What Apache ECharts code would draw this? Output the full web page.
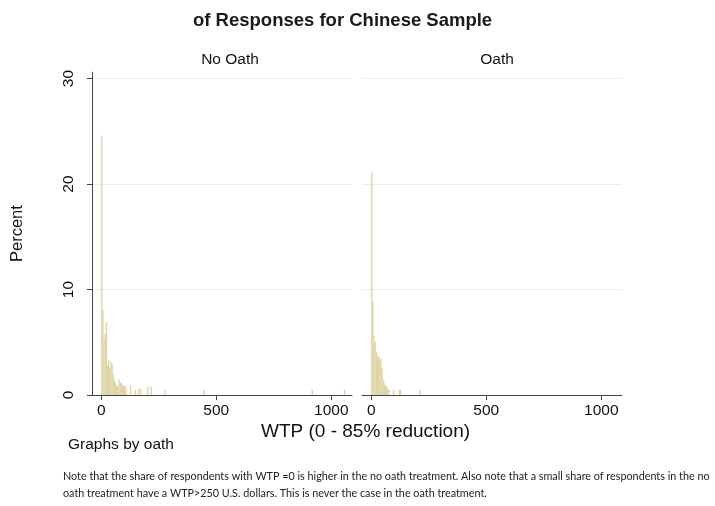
<!DOCTYPE html>
<html>
<head>
<meta charset="utf-8">
<script src="https://cdn.jsdelivr.net/npm/echarts@6/dist/echarts.min.js"></script>
<style>html,body{margin:0;padding:0;background:#fff}#c{width:715px;height:506px}</style>
</head>
<body>
<div id="c"></div>
<script>
// ---- data (percent of responses per WTP bin, bin width 5) ----
const BIN_WIDTH = 5;
const panelTitles = ["No Oath", "Oath"];
const noOathBins = [0, 5, 10, 15, 20, 25, 30, 35, 40, 45, 50, 55, 60, 65, 70, 75, 80, 85, 90, 95, 100, 105, 125, 145, 160, 170, 200, 215, 275, 445, 915, 1055];
const noOathPct  = [24.6, 8.0, 5.2, 5.8, 6.9, 2.8, 3.3, 2.6, 3.1, 2.9, 1.9, 1.4, 1.1, 0.8, 0.9, 1.5, 1.2, 1.1, 0.9, 0.8, 0.9, 0.6, 0.9, 0.5, 0.6, 0.6, 0.8, 0.8, 0.5, 0.5, 0.5, 0.5];
const oathBins = [0, 5, 10, 15, 20, 25, 30, 35, 40, 45, 50, 55, 60, 65, 70, 75, 95, 120, 125, 210];
const oathPct  = [21.1, 8.8, 5.6, 5.0, 4.1, 3.6, 3.7, 3.4, 3.4, 2.5, 1.4, 1.1, 0.8, 0.8, 0.5, 0.5, 0.5, 0.5, 0.5, 0.5];
const xTicks = [0, 500, 1000];
const yTicks = [0, 10, 20, 30];
const xTitle = "WTP (0 - 85% reduction)";
const yTitle = "Percent";
const chartTitle = "of Responses for Chinese Sample";
const byNote = "Graphs by oath";
const noteLines = [
  "Note that the share of respondents with WTP =0 is higher in the no oath treatment. Also note that a small share of respondents in the no",
  "oath treatment have a WTP>250 U.S. dollars. This is never the case in the oath treatment."
];

const FONT = "Liberation Sans";
const BAR = "#d9cf9b";
const GRIDC = "#e3f0f0";
const AXC = "#444";

function renderItem(params, api) {
  const x0 = api.value(0), h = api.value(1);
  const p0 = api.coord([x0, 0]);
  const p1 = api.coord([x0 + BIN_WIDTH, h]);
  return {
    type: 'rect',
    shape: { x: p0[0], y: p1[1], width: p1[0] - p0[0], height: p0[1] - p1[1] },
    style: { fill: BAR, stroke: '#e6dfb8', lineWidth: 0.3 }
  };
}

function xAxisFor(i) {
  return {
    type: 'value', gridIndex: i, min: -40, max: 1090,
    axisLine: { show: true, onZero: false, lineStyle: { color: AXC, width: 1 } },
    axisTick: { show: true, length: 5, customValues: xTicks, lineStyle: { color: AXC } },
    axisLabel: { customValues: xTicks, margin: 8, fontFamily: FONT, fontSize: 15.5, color: '#111',
                 formatter: v => String(v) },
    splitLine: { show: false }
  };
}
function yAxisFor(i) {
  const show = i === 0;
  return {
    type: 'value', gridIndex: i, min: 0, max: 30.6,
    axisLine: { show: show, onZero: false, lineStyle: { color: AXC, width: 1 } },
    axisTick: { show: show, length: 5, customValues: yTicks, lineStyle: { color: AXC } },
    axisLabel: { show: show, customValues: yTicks, rotate: 90, margin: 15, fontFamily: FONT, fontSize: 15.5, color: '#111' },
    splitLine: { show: true, lineStyle: { color: GRIDC, width: 1 } },
    name: show ? yTitle : '', nameLocation: 'middle', nameGap: 66, nameRotate: 90,
    nameTextStyle: { fontFamily: FONT, fontSize: 16.5, color: '#111' }
  };
}

const chart = echarts.init(document.getElementById('c'), null, { renderer: 'canvas' });
chart.setOption({
  backgroundColor: '#fff',
  animation: false,
  title: [
    { text: chartTitle, left: 188, top: 6, textStyle: { fontFamily: FONT, fontSize: 18.5, fontWeight: 'bold', color: '#1a1a1a' } },
    { text: panelTitles[0], left: 225, top: 47, textAlign: 'center', textStyle: { fontFamily: FONT, fontSize: 15.5, fontWeight: 'normal', color: '#111' } },
    { text: panelTitles[1], left: 492, top: 47, textAlign: 'center', textStyle: { fontFamily: FONT, fontSize: 15.5, fontWeight: 'normal', color: '#111' } }
  ],
  grid: [
    { left: 92, width: 260, top: 72.2, bottom: 111 },
    { left: 362, width: 260, top: 72.2, bottom: 111 }
  ],
  xAxis: [xAxisFor(0), xAxisFor(1)],
  yAxis: [yAxisFor(0), yAxisFor(1)],
  series: [
    { type: 'custom', xAxisIndex: 0, yAxisIndex: 0, renderItem: renderItem, clip: true,
      data: noOathBins.map((b, i) => [b, noOathPct[i]]) },
    { type: 'custom', xAxisIndex: 1, yAxisIndex: 1, renderItem: renderItem, clip: true,
      data: oathBins.map((b, i) => [b, oathPct[i]]) }
  ],
  graphic: [
    { type: 'text', left: 261, top: 422, style: { text: xTitle, fontFamily: FONT, fontSize: 19, fill: '#111' } },
    { type: 'text', left: 68, top: 437, style: { text: byNote, fontFamily: FONT, fontSize: 15.5, fill: '#111' } },
    { type: 'text', left: 63, top: 471, style: { text: noteLines[0], fontFamily: 'Lato', fontSize: 10.8, fill: '#222' } },
    { type: 'text', left: 63, top: 488, style: { text: noteLines[1], fontFamily: 'Lato', fontSize: 10.8, fill: '#222' } }
  ]
});
</script>
</body>
</html>
